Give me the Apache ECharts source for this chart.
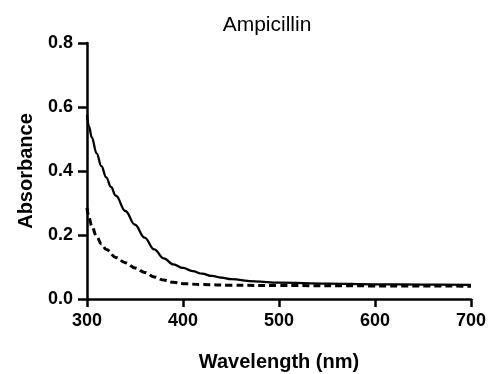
<!DOCTYPE html>
<html><head><meta charset="utf-8">
<script src="https://cdn.jsdelivr.net/npm/echarts@6/dist/echarts.min.js"></script>
<style>html,body{margin:0;padding:0;background:#fff}#c{width:492px;height:374px}</style>
</head><body><div id="c"></div>
<script>
const solidX = [300,302,305,310,315,320,325,330,340,350,360,370,380,390,400,410,420,430,440,450,475,500,550,600,650,700];
const solidY = [0.575,0.54,0.505,0.455,0.415,0.38,0.35,0.323,0.275,0.232,0.192,0.155,0.127,0.108,0.097,0.087,0.079,0.072,0.067,0.062,0.055,0.051,0.048,0.046,0.045,0.044];
const dashX = [300,302,305,310,315,320,330,340,350,360,370,380,390,400,420,450,500,600,700];
const dashY = [0.285,0.255,0.228,0.195,0.172,0.155,0.13,0.113,0.097,0.083,0.069,0.059,0.052,0.048,0.045,0.043,0.042,0.041,0.040];
const xTicks = [300,400,500,600,700];
const yTicks = [0.0,0.2,0.4,0.6,0.8];

const font = 'Liberation Sans, Arial, sans-serif';
const chart = echarts.init(document.getElementById('c'));
chart.setOption({
  animation:false,
  title:{text:'Ampicillin',left:262,top:10,textAlign:'center',textStyle:{fontFamily:font,fontSize:21,fontWeight:'normal',color:'#000'}},
  grid:{left:87,right:21,top:43,bottom:75,outerBoundsMode:'none',containLabel:false},
  xAxis:{type:'value',min:xTicks[0],max:xTicks[xTicks.length-1],interval:100,
    name:'Wavelength (nm)',nameLocation:'middle',nameGap:53,
    nameTextStyle:{fontFamily:font,fontSize:20,fontWeight:'bold',color:'#000'},
    axisLine:{lineStyle:{color:'#000',width:2.5}},
    axisTick:{length:8,lineStyle:{color:'#000',width:2.5}},
    axisLabel:{fontFamily:font,fontSize:18,fontWeight:'bold',color:'#000',margin:13,formatter:v=>String(v)},
    splitLine:{show:false}},
  yAxis:{type:'value',min:yTicks[0],max:yTicks[yTicks.length-1],interval:0.2,
    name:'Absorbance',nameLocation:'middle',nameGap:51,
    nameTextStyle:{fontFamily:font,fontSize:20,fontWeight:'bold',color:'#000'},
    axisLine:{show:true,lineStyle:{color:'#000',width:2.5}},
    axisTick:{show:true,length:9,lineStyle:{color:'#000',width:2.5}},
    axisLabel:{fontFamily:font,fontSize:18,fontWeight:'bold',color:'#000',margin:14,formatter:v=>v.toFixed(1)},
    splitLine:{show:false}},
  series:[
    {type:'line',data:solidX.map((x,i)=>[x,solidY[i]]),showSymbol:false,smooth:0.4,smoothMonotone:'x',
     lineStyle:{color:'#000',width:2.3},z:3},
    {type:'line',data:dashX.map((x,i)=>[x,dashY[i]]),showSymbol:false,smooth:0.4,smoothMonotone:'x',
     lineStyle:{color:'#000',width:3,type:[7,4]},z:2}
  ]
});
</script></body></html>
